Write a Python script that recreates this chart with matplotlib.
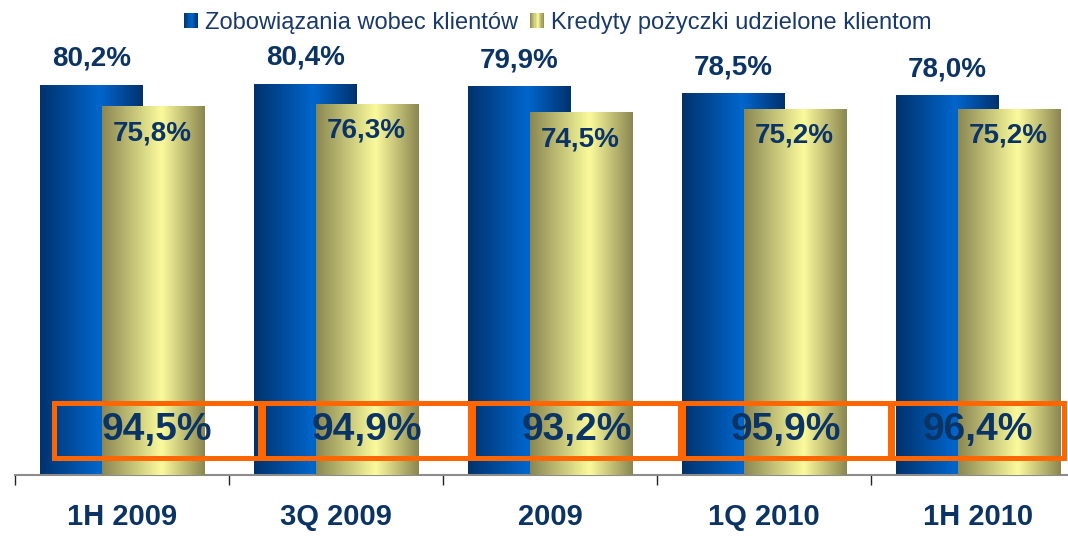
import numpy as np
import matplotlib.pyplot as plt
from matplotlib.colors import LinearSegmentedColormap
from matplotlib.patches import Rectangle
from matplotlib.legend_handler import HandlerBase

# dane
categories = ['1H 2009', '3Q 2009', '2009', '1Q 2010', '1H 2010']
zobowiazania = [80.2, 80.4, 79.9, 78.5, 78.0]
kredyty = [75.8, 76.3, 74.5, 75.2, 75.2]
relacja = [94.5, 94.9, 93.2, 95.9, 96.4]
series_names = ['Zobowiązania wobec klientów', 'Kredyty pożyczki udzielone klientom']


def fmt(v):
    return f'{v:.1f}%'.replace('.', ',')


class GradHandler(HandlerBase):
    def __init__(self, cmap):
        super().__init__()
        self.cmap = cmap

    def create_artists(self, legend, orig_handle, xdescent, ydescent,
                       width, height, fontsize, trans):
        n = 12
        arts = []
        for k in range(n):
            arts.append(Rectangle((-xdescent + width * k / n, -ydescent), width / n, height,
                                  fc=self.cmap((k + 0.5) / n), ec='none', transform=trans))
        return arts


navy = '#0b3465'
blue_cmap = LinearSegmentedColormap.from_list(
    'b', [(0, '#00326c'), (0.58, '#0066cc'), (1, '#00326e')])
yellow_cmap = LinearSegmentedColormap.from_list(
    'y', [(0, '#8a8752'), (0.58, '#fbfb9c'), (1, '#8a8650')])

plt.rcParams['font.family'] = ['Liberation Sans', 'DejaVu Sans']

fig = plt.figure(figsize=(10.68, 5.36), dpi=100)
ax = fig.add_axes([15 / 1068, 61 / 536, 1053 / 1068, 475 / 536])

x = np.arange(len(categories))
w = 0.477
b1 = ax.bar(x - 0.143, zobowiazania, w, color='none', zorder=2)
b2 = ax.bar(x + 0.143, kredyty, w, color='none', zorder=3)

grad = np.linspace(0, 1, 256).reshape(1, -1)
for bars, cmap, z in [(b1, blue_cmap, 2), (b2, yellow_cmap, 3)]:
    for r in bars:
        x0, y0 = r.get_x(), r.get_y()
        ax.imshow(grad, cmap=cmap, aspect='auto', zorder=z, interpolation='bicubic',
                  extent=[x0, x0 + r.get_width(), y0, y0 + r.get_height()])

# etykiety wartosci
for r, v in zip(b1, zobowiazania):
    ax.annotate(fmt(v), (r.get_x() + r.get_width() / 2, r.get_height()),
                xytext=(0, 19), textcoords='offset points', ha='center', va='center',
                fontsize=20, fontweight='bold', color=navy, zorder=6)
for r, v in zip(b2, kredyty):
    ax.annotate(fmt(v), (r.get_x() + r.get_width() / 2, r.get_height()),
                xytext=(0, -19), textcoords='offset points', ha='center', va='center',
                fontsize=20, fontweight='bold', color=navy, zorder=6)

# ramki z relacja kredytow do depozytow
for i, v in enumerate(relacja):
    left = -0.32 + 0.98 * i
    right = min(left + 0.967, 4.40)
    ax.add_patch(Rectangle((left, 3.6), right - left, 11.3, fill=False,
                           ec='#ff6600', lw=3.6, zorder=4))
    ax.text((left + right) / 2, 9.3, fmt(v), ha='center', va='center',
            fontsize=28, fontweight='bold', color=navy, zorder=6)

for s in ['top', 'right', 'left']:
    ax.spines[s].set_visible(False)
ax.spines['bottom'].set_color('#8c8c8c')
ax.spines['bottom'].set_linewidth(1.5)
ax.set_yticks([])
ax.set_xticks(np.arange(len(categories) + 1) - 0.5)
ax.set_xticklabels([])
ax.tick_params(axis='x', which='major', length=7.2, width=1, color='#222222', direction='out')
ax.set_xticks(x, minor=True)
ax.set_xticklabels(categories, minor=True, fontsize=21, fontweight='bold', color=navy)
ax.tick_params(axis='x', which='minor', length=0, pad=20)

# limity po tickach, bo set_xticks rozszerza zakres
ax.set_xlim(-0.5, -0.5 + 1053 / 214)
ax.set_ylim(0, 475 / 4.86)

h1 = Rectangle((0, 0), 1, 1)
h2 = Rectangle((0, 0), 1, 1)
fig.legend(handles=[h1, h2], labels=series_names,
           handler_map={h1: GradHandler(blue_cmap), h2: GradHandler(yellow_cmap)},
           loc='center', bbox_to_anchor=(0.522, 0.957), ncol=2, frameon=False,
           fontsize=17, handlelength=0.6, handleheight=0.6, handletextpad=0.3,
           columnspacing=0.5, labelcolor='#1a3a6a')

fig.savefig('out.png', dpi=100)
